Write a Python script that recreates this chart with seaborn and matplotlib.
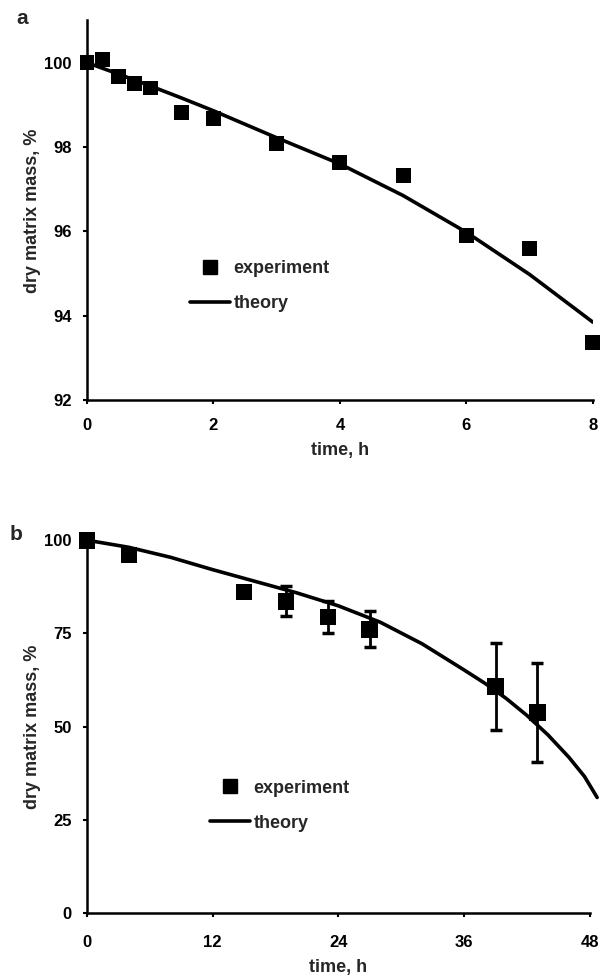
import numpy as np
import pandas as pd
import matplotlib
matplotlib.use('Agg')
import matplotlib.pyplot as plt
import seaborn as sns
from matplotlib.lines import Line2D

# panel a: short-term data (hours)
exp_a_time = [0, 0.25, 0.5, 0.75, 1, 1.5, 2, 3, 4, 5, 6, 7, 8]
exp_a_mass = [100, 100.07, 99.67, 99.5, 99.4, 98.82, 98.67, 98.08, 97.63, 97.33, 95.9, 95.6, 93.37]
theory_a_time = [0, 0.5, 1, 1.5, 2, 3, 4, 5, 6, 7, 8]
theory_a_mass = [100, 99.73, 99.45, 99.16, 98.86, 98.22, 97.6, 96.85, 95.98, 94.98, 93.85]

# panel b: long-term data (hours)
exp_b_time = [0, 4, 15, 19, 23, 27, 39, 43]
exp_b_mass = [100, 96.0, 86.1, 83.6, 79.4, 76.1, 60.7, 53.7]
exp_b_err = [0, 0, 0, 4.0, 4.2, 4.8, 11.7, 13.3]
theory_b_time = [0, 4, 8, 12, 16, 20, 24, 28, 32, 36, 38, 40, 42, 44, 46, 47.5, 48.7]
theory_b_mass = [100, 98.1, 95.4, 92.1, 89.0, 85.9, 82.4, 78.0, 72.2, 65.2, 61.6, 57.6, 53.0, 47.8, 41.8, 36.6, 31.0]

sns.set_style('ticks')
plt.rcParams['font.family'] = ['Liberation Sans', 'DejaVu Sans']
plt.rcParams['font.weight'] = 'bold'
plt.rcParams['axes.labelweight'] = 'bold'

fig = plt.figure(figsize=(6, 9.76), dpi=100)
ax_a = fig.add_axes([0.145, 0.590, 0.843, 0.389])
ax_b = fig.add_axes([0.145, 0.0645, 0.838, 0.382])


def style_axes(ax):
    sns.despine(ax=ax)
    for s in ['left', 'bottom']:
        ax.spines[s].set_linewidth(1.8)
        ax.spines[s].set_color('black')
    ax.tick_params(width=1.5, length=3, labelsize=12, colors='black')
    ax.tick_params(axis='y', pad=8)
    for lab in ax.get_xticklabels() + ax.get_yticklabels():
        lab.set_fontweight('bold')


def add_legend(ax, anchor):
    handles = [
        Line2D([], [], color='black', marker='s', markersize=10, linestyle='none'),
        Line2D([], [], color='black', linewidth=2.6),
    ]
    ax.legend(handles, ['experiment', 'theory'], loc='upper left', bbox_to_anchor=anchor,
              frameon=False, handlelength=2.2, handletextpad=0.2, labelspacing=1.0,
              borderpad=0, borderaxespad=0, prop={'weight': 'bold', 'size': 13})


# panel a
df_ta = pd.DataFrame({'time': theory_a_time, 'mass': theory_a_mass})
df_ea = pd.DataFrame({'time': exp_a_time, 'mass': exp_a_mass})
sns.lineplot(data=df_ta, x='time', y='mass', ax=ax_a, color='black', linewidth=2.6)
sns.scatterplot(data=df_ea, x='time', y='mass', ax=ax_a, marker='s', s=115,
                color='black', edgecolor='none', zorder=3, clip_on=False)
ax_a.set_xlim(0, 8)
ax_a.set_ylim(92, 101)
ax_a.set_xticks([0, 2, 4, 6, 8])
ax_a.set_yticks([92, 94, 96, 98, 100])
ax_a.set_xlabel('time, h', fontsize=13, fontweight='bold', labelpad=6)
ax_a.set_ylabel('dry matrix mass, %', fontsize=13, fontweight='bold', labelpad=2)
style_axes(ax_a)
ax_a.tick_params(axis='x', pad=10)
add_legend(ax_a, (0.204, 0.369))

# panel b
df_tb = pd.DataFrame({'time': theory_b_time, 'mass': theory_b_mass})
df_eb = pd.DataFrame({'time': exp_b_time, 'mass': exp_b_mass, 'err': exp_b_err})
sns.lineplot(data=df_tb, x='time', y='mass', ax=ax_b, color='black', linewidth=2.6)
for ln in ax_b.lines:
    ln.set_clip_on(False)
ax_b.errorbar(df_eb['time'], df_eb['mass'], yerr=df_eb['err'], fmt='none',
              ecolor='black', elinewidth=2, capsize=4, capthick=2.5, zorder=2)
sns.scatterplot(data=df_eb, x='time', y='mass', ax=ax_b, marker='s', s=145,
                color='black', edgecolor='none', zorder=3, clip_on=False)
ax_b.set_xlim(0, 48)
ax_b.set_ylim(0, 100)
ax_b.set_xticks([0, 12, 24, 36, 48])
ax_b.set_yticks([0, 25, 50, 75, 100])
ax_b.set_xlabel('time, h', fontsize=13, fontweight='bold', labelpad=6)
ax_b.set_ylabel('dry matrix mass, %', fontsize=13, fontweight='bold', labelpad=2)
style_axes(ax_b)
ax_b.tick_params(axis='x', pad=13)
add_legend(ax_b, (0.245, 0.358))

fig.text(22 / 600, 1 - 19 / 976, 'a', fontsize=15, fontweight='bold', va='center', ha='center')
fig.text(16 / 600, 1 - 535 / 976, 'b', fontsize=15, fontweight='bold', va='center', ha='center')

fig.savefig('out.png', dpi=100)
